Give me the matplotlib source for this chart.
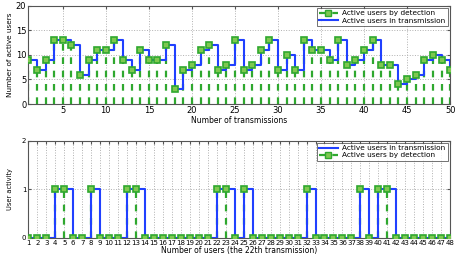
"""
Active users per transmission (top) and per-user activity in the 22th transmission (bottom).
"""

import numpy as np
import matplotlib.pyplot as plt

# top panel: number of active users for each transmission
transmissions = list(range(1, 51))
active_in_tx = [9, 7, 9, 13, 13, 12, 6, 9, 11, 11,
                13, 9, 7, 11, 9, 9, 12, 3, 7, 8,
                11, 12, 7, 8, 13, 7, 8, 11, 13, 7,
                10, 7, 13, 11, 11, 9, 13, 8, 9, 11,
                13, 8, 8, 4, 5, 6, 9, 10, 9, 7]
active_by_det = [9, 7, 9, 13, 13, 12, 6, 9, 11, 11,
                 13, 9, 7, 11, 9, 9, 12, 3, 7, 8,
                 11, 12, 7, 8, 13, 7, 8, 11, 13, 7,
                 10, 7, 13, 11, 11, 9, 13, 8, 9, 11,
                 13, 8, 8, 4, 5, 6, 9, 10, 9, 7]

# bottom panel: activity of each user in the 22th transmission
users = list(range(1, 49))
active_users_tx = [4, 5, 8, 12, 13, 22, 23, 25, 32, 38, 40, 41]
active_users_det = [4, 5, 8, 12, 13, 22, 23, 25, 32, 38, 40, 41]
activity_tx = [1 if u in active_users_tx else 0 for u in users]
activity_det = [1 if u in active_users_det else 0 for u in users]

BLUE = "#2040ff"
GREEN = "#2fa82f"
MFACE = "#7ec850"
SPINE = "#555555"


def stems(ax, x, y):
    ax.vlines(x, 0, y, colors=GREEN, linestyles=(0, (3, 3)), linewidth=1.6, zorder=2)
    h, = ax.plot(x, y, ls="none", marker="s", ms=4.5, mfc=MFACE, mec=GREEN,
                 mew=1.2, zorder=4)
    return h


def style(ax):
    ax.grid(True, ls=":", color="#b0b0b0", lw=0.7)
    ax.tick_params(direction="in", top=True, right=True, length=2.5,
                   color=SPINE, labelsize=6, pad=1.5)
    for s in ax.spines.values():
        s.set_color(SPINE)
        s.set_linewidth(0.8)


def add_legend(ax, handles, labels):
    leg = ax.legend(handles, labels, loc="upper right", fontsize=5.3, frameon=True,
                    fancybox=False, borderpad=0.3, labelspacing=0.15,
                    handlelength=2.6, handletextpad=0.6, borderaxespad=0.3)
    leg.get_frame().set_edgecolor("#333333")
    leg.get_frame().set_linewidth(0.6)
    return leg


plt.rcParams["font.family"] = "DejaVu Sans"
fig = plt.figure(figsize=(4.57, 2.6), dpi=100)

# top
ax1 = fig.add_axes([0.062, 0.60, 0.923, 0.378])
ax1.step(transmissions, active_in_tx, where="post", color=BLUE, lw=1.5, zorder=3)
stems(ax1, transmissions, active_by_det)
ax1.set_xlim(1, 50)
ax1.set_ylim(0, 20)
ax1.set_xticks(range(5, 51, 5))
ax1.set_yticks(range(0, 21, 5))
ax1.set_xlabel("Number of transmissions", fontsize=5.5, labelpad=0.5)
ax1.set_ylabel("Number of active users", fontsize=5.2, labelpad=2)
style(ax1)
det_h = plt.Line2D([], [], color=GREEN, ls=(0, (3, 3)), lw=1.6, marker="s",
                   ms=4, mfc=MFACE, mec=GREEN)
tx_h = plt.Line2D([], [], color=BLUE, lw=1.5)
add_legend(ax1, [det_h, tx_h], ["Active users by detection", "Active users in transmission"])

# bottom
ax2 = fig.add_axes([0.062, 0.086, 0.923, 0.373])
ax2.step(users, activity_tx, where="post", color=BLUE, lw=1.5, zorder=3)
stems(ax2, users, activity_det)
ax2.set_xlim(1, 48)
ax2.set_ylim(0, 2)
ax2.set_xticks(users)
ax2.set_yticks([0, 1, 2])
ax2.set_xlabel("Number of users (the 22th transmission)", fontsize=5.5, labelpad=0.5)
ax2.set_ylabel("User activity", fontsize=4.8, labelpad=6)
style(ax2)
ax2.tick_params(axis="x", labelsize=5)
ax2.tick_params(axis="y", labelsize=5)
add_legend(ax2, [tx_h, det_h], ["Active users in transmission", "Active users by detection"])

fig.savefig("out.png", dpi=100)
